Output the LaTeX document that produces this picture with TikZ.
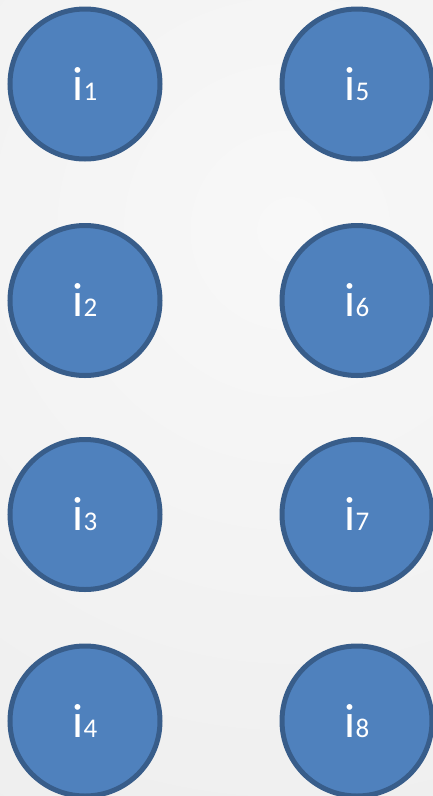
\documentclass[tikz,border=0pt]{standalone}
\usepackage{fontspec}
\setmainfont{Carlito}
\definecolor{bgin}{HTML}{F8F8F8}
\definecolor{bgout}{HTML}{E3E3E3}
\definecolor{cfill}{HTML}{4F81BD}
\definecolor{cline}{HTML}{385D8A}
\begin{document}
\begin{tikzpicture}[x=1pt,y=-1pt,
  ball/.style={circle,draw=cline,fill=cfill,line width=5pt,minimum size=150pt,inner sep=0pt},
  lbl/.style={text=white,anchor=base,inner sep=0pt}]
\useasboundingbox (0,0) rectangle (433,796);
\begin{scope}
\clip (0,0) rectangle (433,796);
\shade[inner color=bgin,outer color=bgout] (290,230) circle (1400);
\end{scope}
\foreach \n/\x/\y in {1/85/84,2/85/300.5,3/85/514.5,4/85/721,5/357/84,6/357/300.5,7/357/514.5,8/357/721}{
  \node[ball] (c\n) at (\x,\y) {};
  \node[lbl] (t\n) at ([yshift=-16pt]c\n.center) {\fontsize{48}{50}\selectfont i\fontsize{27}{30}\selectfont\n};
}
\end{tikzpicture}
\end{document}
